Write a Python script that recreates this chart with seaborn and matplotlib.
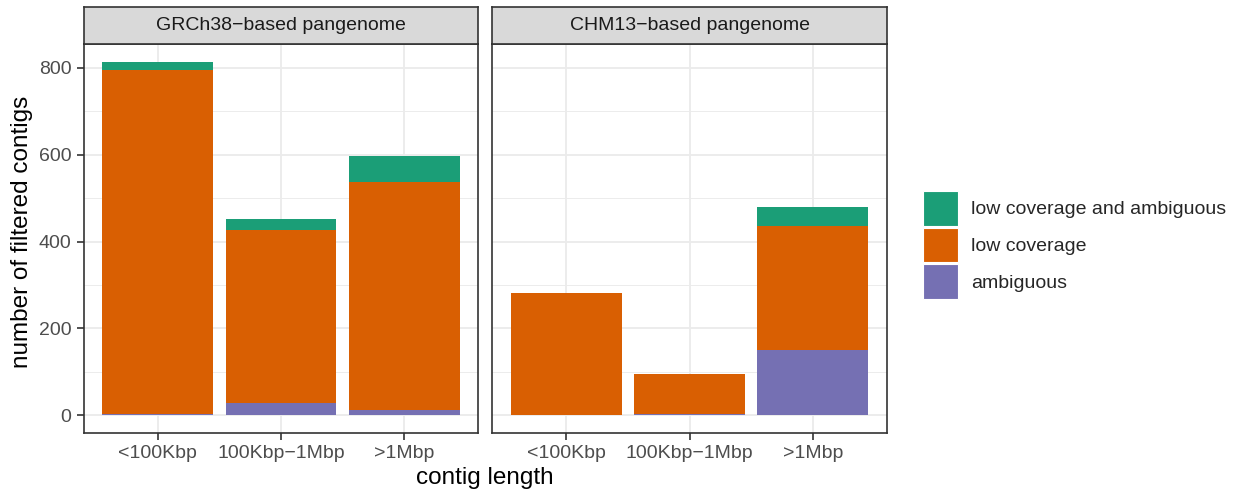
import matplotlib
matplotlib.use("Agg")
import matplotlib.pyplot as plt
import seaborn as sns
import pandas as pd
import numpy as np
from matplotlib.patches import Patch

categories = ["<100Kbp", "100Kbp\u22121Mbp", ">1Mbp"]
panels = ["GRCh38\u2212based pangenome", "CHM13\u2212based pangenome"]
ambiguous = {"GRCh38\u2212based pangenome": [3, 28, 12],
             "CHM13\u2212based pangenome": [0, 2, 150]}
low_coverage = {"GRCh38\u2212based pangenome": [792, 398, 524],
                "CHM13\u2212based pangenome": [281, 93, 286]}
low_cov_and_amb = {"GRCh38\u2212based pangenome": [19, 26, 62],
                   "CHM13\u2212based pangenome": [0, 0, 44]}
yticks = [0, 200, 400, 600, 800]

colors = {"low coverage and ambiguous": "#1B9E77",
          "low coverage": "#D95F02",
          "ambiguous": "#7570B3"}

sns.set_theme(style="white")
plt.rcParams['font.family'] = ['Liberation Sans', 'DejaVu Sans']

W, H = 1234, 492
fig = plt.figure(figsize=(W / 100, H / 100), dpi=100)

def ax_rect(x0, x1, y0, y1):
    return [x0 / W, 1 - y1 / H, (x1 - x0) / W, (y1 - y0) / H]

panel_x = [(84, 478), (492, 887)]
ytop, ybot = 44, 433
strip_top = 7
tick_fs = 14
title_fs = 17.5

ymax = max(float((np.array(ambiguous[p]) + np.array(low_coverage[p])
                  + np.array(low_cov_and_amb[p])).max()) for p in panels)
ylim = (-0.05 * ymax, ymax * 1.05)

grey20 = "#333333"
for i, p in enumerate(panels):
    x0, x1 = panel_x[i]
    ax = fig.add_axes(ax_rect(x0, x1, ytop, ybot))
    amb = np.array(ambiguous[p])
    low = np.array(low_coverage[p])
    both = np.array(low_cov_and_amb[p])
    df = pd.DataFrame({"cat": categories, "total": amb + low + both,
                       "amb_low": amb + low, "amb": amb})
    ax.set_axisbelow(True)
    for col, key in [("total", "low coverage and ambiguous"),
                     ("amb_low", "low coverage"), ("amb", "ambiguous")]:
        sns.barplot(data=df, x="cat", y=col, order=categories, color=colors[key],
                    saturation=1, width=0.9, ax=ax, linewidth=0, zorder=2)
    ax.set_xlim(-0.6, 2.6)
    ax.set_ylim(*ylim)
    ax.set_yticks(yticks)
    ax.set_yticks([100, 300, 500, 700], minor=True)
    ax.grid(True, which="major", color="#EBEBEB", linewidth=1.3, zorder=0)
    ax.grid(True, which="minor", axis="y", color="#EBEBEB", linewidth=0.65, zorder=0)
    ax.set_xlabel("")
    ax.set_ylabel("")
    for s in ax.spines.values():
        s.set_color(grey20)
        s.set_linewidth(1.2)
    ax.tick_params(axis="both", which="major", length=5, width=1.2, color=grey20,
                   labelsize=tick_fs, labelcolor="#4D4D4D", pad=4, bottom=True, left=(i == 0))
    ax.tick_params(axis="both", which="minor", length=0)
    if i == 1:
        ax.set_yticklabels([])
        ax.tick_params(axis="y", left=False)
    # strip
    sax = fig.add_axes(ax_rect(x0, x1, strip_top, ytop))
    sax.set_facecolor("#D9D9D9")
    sax.set_xticks([])
    sax.set_yticks([])
    for s in sax.spines.values():
        s.set_color(grey20)
        s.set_linewidth(1.2)
    sax.text(0.5, 0.5, p, ha="center", va="center", fontsize=tick_fs,
             color="#1A1A1A", transform=sax.transAxes)

fig.text(22 / W, 1 - 232 / H, "number of filtered contigs", rotation=90,
         ha="center", va="center", fontsize=title_fs, color="black")
fig.text(485 / W, 1 - 478 / H, "contig length", ha="center", va="center",
         fontsize=title_fs, color="black")

handles = [Patch(facecolor=colors[k], edgecolor="white", linewidth=0.8, label=k)
           for k in ["low coverage and ambiguous", "low coverage", "ambiguous"]]
fig.legend(handles=handles, loc="center left", bbox_to_anchor=(923 / W, 1 - 245 / H),
           frameon=False, fontsize=tick_fs, handlelength=1.8, handleheight=2.39,
           handletextpad=0.65, labelspacing=0.1, borderpad=0, borderaxespad=0)

fig.savefig("out.png", dpi=100)
